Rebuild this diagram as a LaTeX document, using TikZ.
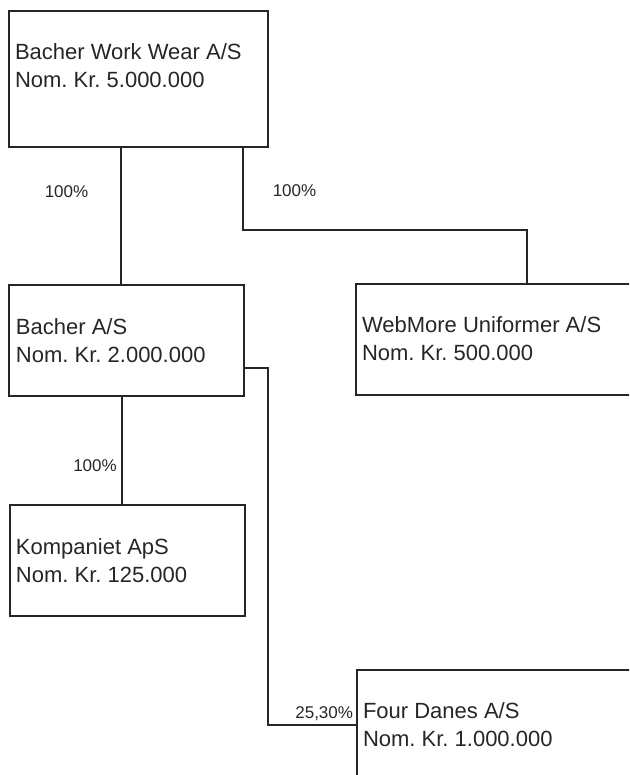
\documentclass[tikz,border=0pt]{standalone}
\usepackage{fontspec}
\setmainfont{Liberation Sans}
\usetikzlibrary{positioning}
\frenchspacing

\begin{document}
\begin{tikzpicture}[
		x=1pt, y=-1pt,
		%Boxes, lines and texts
		inner sep=0pt, outer sep=0pt,%
		firma/.style={draw=black!85, line width=1.3pt, rectangle, anchor=north west},
		navn/.style={anchor=base west, align=left, text=black!85,
			font=\fontsize{22}{28}\selectfont},
		andel/.style={text=black!85, font=\fontsize{17}{20}\selectfont},
		ejer/.style={draw=black!85, line width=1.2pt},
	]
		\useasboundingbox (0, 0) rectangle (629, 775);
		\clip (0, 0) rectangle (629, 775);

		% Companies
		\node[firma, minimum width=259pt, minimum height=136pt] (bww) at (9, 11) {};
		\node[firma, minimum width=235pt, minimum height=111pt] (bas) at (9, 285) {};
		\node[firma, minimum width=300pt, minimum height=111pt] (wmu) at (356, 284) {};
		\node[firma, minimum width=235pt, minimum height=111pt] (kom) at (10, 505) {};
		\node[firma, minimum width=300pt, minimum height=130pt] (fda) at (357, 670) {};

		% (base = last line)
		\node[navn] (bww-txt) at (15, 88) {Bacher Work Wear A/S\\Nom. Kr. 5.000.000};
		\node[navn] (bas-txt) at (16, 362) {Bacher A/S\\Nom. Kr. 2.000.000};
		\node[navn] (wmu-txt) at (362, 360) {WebMore Uniformer A/S\\Nom. Kr. 500.000};
		\node[navn] (kom-txt) at (16, 582) {Kompaniet ApS\\Nom. Kr. 125.000};
		\node[navn] (fda-txt) at (363, 746) {Four Danes A/S\\Nom. Kr. 1.000.000};

		% Ownership
		\coordinate (k-bas) at (121, 0);
		\coordinate (k-wmu1) at (243, 230);
		\coordinate (k-wmu2) at (527, 230);
		\coordinate (k-kom) at (122, 0);
		\coordinate (k-fda1) at (268, 368);
		\coordinate (k-fda2) at (268, 725);

		\draw[ejer] (bww.south -| k-bas) -- (bas.north -| k-bas);
		\draw[ejer] (bww.south -| k-wmu1) -- (k-wmu1) -- (k-wmu2)
			-- (wmu.north -| k-wmu2);
		\draw[ejer] (bas.south -| k-kom) -- (kom.north -| k-kom);
		\draw[ejer] (bas.east |- k-fda1) -- (k-fda1) -- (k-fda2)
			-- (fda.west |- k-fda2);

		\node[andel] (p-bas) at (66.5, 192) {100\%};
		\node[andel] (p-wmu) at (294.5, 191) {100\%};
		\node[andel] (p-kom) at (95, 466) {100\%};
		\node[andel, anchor=base east] (p-fda) at (353, 718) {25,30\%};
	\end{tikzpicture}
\end{document}
